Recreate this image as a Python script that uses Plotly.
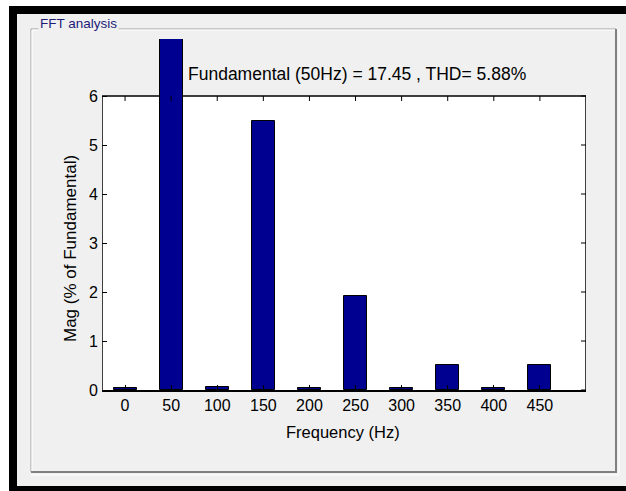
import plotly.graph_objects as go

# Harmonic spectrum (magnitude in % of the fundamental)
freqs = [0, 50, 100, 150, 200, 250, 300, 350, 400, 450]
mags = [0.04, 100.0, 0.07, 5.5, 0.04, 1.92, 0.04, 0.51, 0.04, 0.51]
x_ticks = [0, 50, 100, 150, 200, 250, 300, 350, 400, 450]
y_ticks = [0, 1, 2, 3, 4, 5, 6]
fundamental = 17.45
thd = 5.88

W, H = 626, 491
L, R, T, B = 102, 40, 39, 101
PW, PH = W - L - R, H - T - B
X_RANGE = [-25, 500]
Y_TOP = 6
Y_RANGE = [0, Y_TOP * PH / (H - B - 96)]

PANEL = "#f0f0f0"
FONT = "Liberation Sans, Arial, sans-serif"


def px(x):
    return (x - L) / PW


def py(y):
    return 1 - (y - T) / PH


fig = go.Figure()
fig.add_trace(go.Bar(
    x=freqs, y=mags, width=25,
    marker=dict(color="#000090", line=dict(color="black", width=1)),
    showlegend=False,
))

shapes = []
# window frame: white margin, black border
shapes += [
    dict(type="rect", xref="paper", yref="paper", x0=px(0), x1=px(W), y0=py(0), y1=py(6),
         fillcolor="white", line_width=0),
    dict(type="rect", xref="paper", yref="paper", x0=px(0), x1=px(9), y0=py(0), y1=py(H),
         fillcolor="white", line_width=0),
    dict(type="rect", xref="paper", yref="paper", x0=px(9), x1=px(W), y0=py(6), y1=py(14),
         fillcolor="black", line_width=0),
    dict(type="rect", xref="paper", yref="paper", x0=px(9), x1=px(17), y0=py(6), y1=py(H),
         fillcolor="black", line_width=0),
    dict(type="rect", xref="paper", yref="paper", x0=px(9), x1=px(W), y0=py(486), y1=py(H),
         fillcolor="black", line_width=0),
]
# group box outline
gb = dict(type="line", xref="paper", yref="paper")
shapes += [
    dict(gb, x0=px(31), x1=px(616), y0=py(29), y1=py(29), line=dict(color="#a0a0a0", width=1)),
    dict(gb, x0=px(32), x1=px(615), y0=py(30), y1=py(30), line=dict(color="white", width=1)),
    dict(gb, x0=px(31), x1=px(31), y0=py(29), y1=py(472), line=dict(color="#a0a0a0", width=1)),
    dict(gb, x0=px(32), x1=px(32), y0=py(30), y1=py(471), line=dict(color="white", width=1)),
    dict(gb, x0=px(31), x1=px(617), y0=py(472), y1=py(472), line=dict(color="#808080", width=2)),
    dict(gb, x0=px(616), x1=px(616), y0=py(29), y1=py(472), line=dict(color="#808080", width=2)),
    dict(gb, x0=px(619), x1=px(619), y0=py(29), y1=py(474), line=dict(color="white", width=1)),
    dict(gb, x0=px(31), x1=px(619), y0=py(475), y1=py(475), line=dict(color="white", width=1)),
]
# axes box: white face and frame (bottom edge comes from the x axis line)
shapes += [
    dict(type="rect", xref="x", yref="y", x0=X_RANGE[0], x1=X_RANGE[1], y0=0, y1=Y_TOP,
         fillcolor="white", line_width=0, layer="below"),
    dict(type="path", xref="x", yref="y", layer="below",
         path=f"M{X_RANGE[0]},0 L{X_RANGE[0]},{Y_TOP} L{X_RANGE[1]},{Y_TOP} L{X_RANGE[1]},0",
         line=dict(color="black", width=1.5)),
]
# mirrored ticks on the top and right edges
for t in x_ticks:
    shapes.append(dict(type="line", xref="x", yref="y", ysizemode="pixel", yanchor=Y_TOP,
                       x0=t, x1=t, y0=0, y1=-5, line=dict(color="black", width=1)))
for t in y_ticks:
    shapes.append(dict(type="line", xref="x", yref="y", xsizemode="pixel", xanchor=X_RANGE[1],
                       y0=t, y1=t, x0=0, x1=-5, line=dict(color="black", width=1)))

annotations = [
    dict(text="FFT analysis", xref="paper", yref="paper", x=px(38), y=py(23),
         xanchor="left", yanchor="middle", showarrow=False, bgcolor=PANEL, borderpad=1,
         font=dict(family=FONT, size=13.5, color="#1c1c78")),
    dict(text=f"Fundamental (50Hz) = {fundamental} , THD= {thd}%", xref="paper", yref="paper",
         x=px(357), y=py(74), xanchor="center", yanchor="middle", showarrow=False,
         font=dict(family=FONT, size=17.5, color="black")),
    dict(text="Frequency (Hz)", xref="paper", yref="paper", x=px(343), y=py(432),
         xanchor="center", yanchor="middle", showarrow=False,
         font=dict(family=FONT, size=16.5, color="black")),
    dict(text="Mag (% of Fundamental)", xref="paper", yref="paper", x=px(70), y=py(249),
         xanchor="center", yanchor="middle", showarrow=False, textangle=-90,
         font=dict(family=FONT, size=17, color="black")),
]

fig.update_layout(
    width=W, height=H,
    margin=dict(l=L, r=R, t=T, b=B, pad=0),
    paper_bgcolor=PANEL, plot_bgcolor="rgba(0,0,0,0)",
    shapes=shapes, annotations=annotations,
    bargap=0,
    xaxis=dict(range=X_RANGE, tickvals=x_ticks, ticks="inside", ticklen=5, tickcolor="black",
               showline=True, linecolor="black", linewidth=2, showgrid=False, zeroline=False,
               tickfont=dict(family=FONT, size=16, color="black"), fixedrange=True),
    yaxis=dict(range=Y_RANGE, tickvals=y_ticks, ticks="inside", ticklen=5, tickcolor="black",
               showline=False, showgrid=False, zeroline=False, ticklabelstandoff=3,
               tickfont=dict(family=FONT, size=16, color="black"), fixedrange=True),
)

fig.write_html("out.html")
